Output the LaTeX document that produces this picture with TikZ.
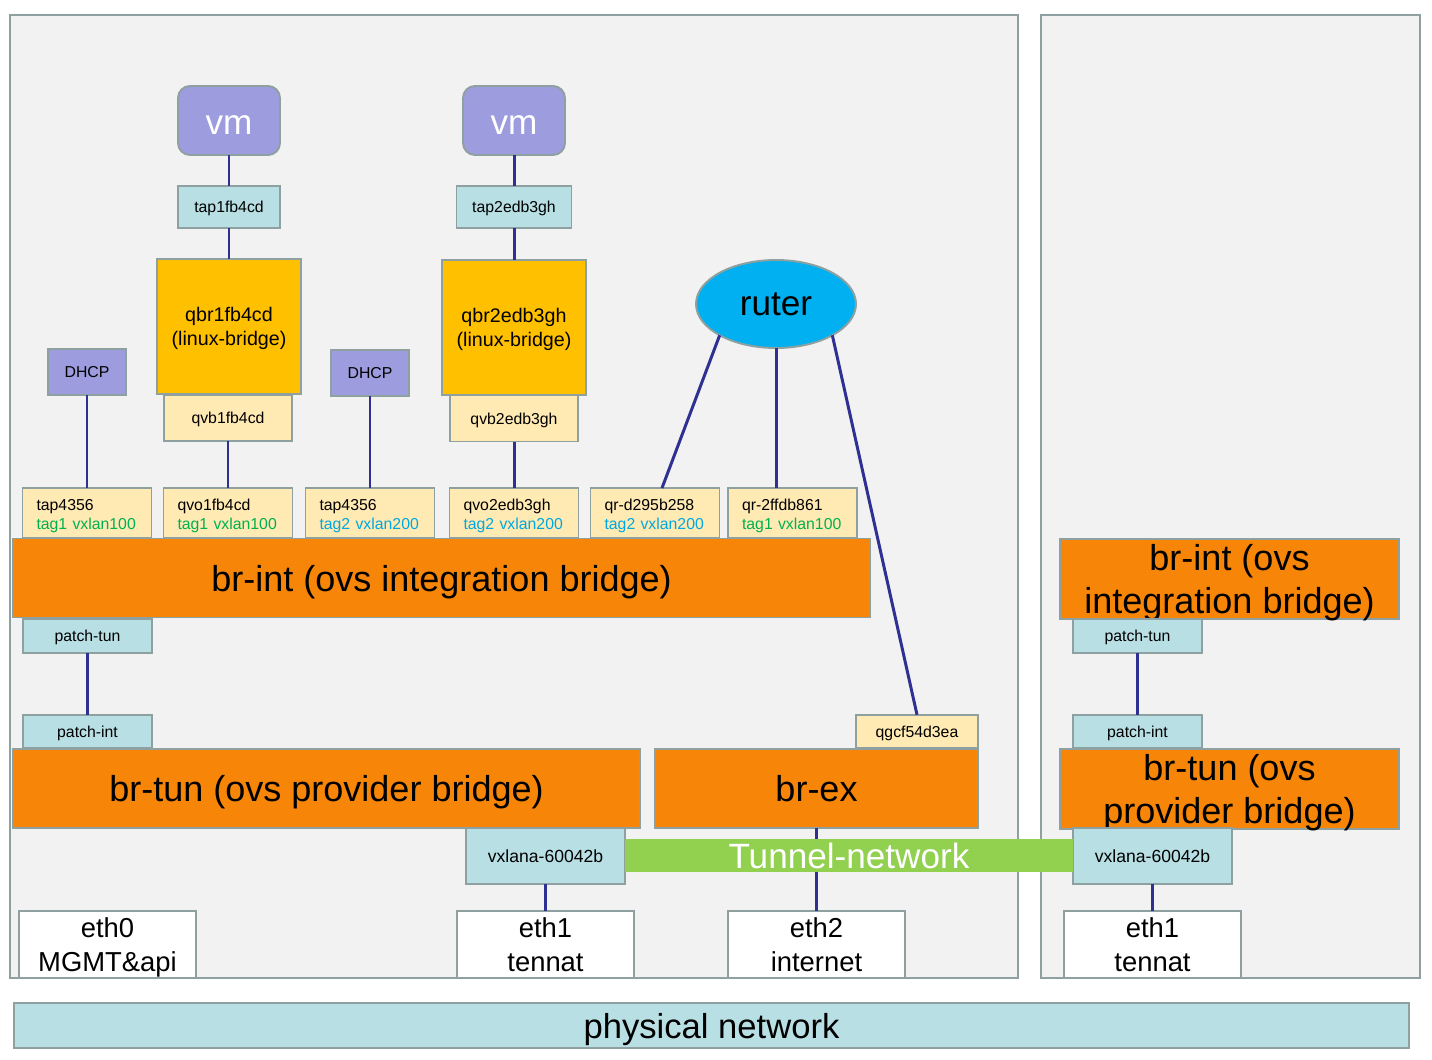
\documentclass[tikz,border=0pt]{standalone}
\usepackage{fontspec}
\setmainfont{Liberation Sans}
\usetikzlibrary{shapes.geometric}
\definecolor{panelgray}{HTML}{F2F2F2}
\definecolor{edgegray}{HTML}{8FA0A0}
\definecolor{vmblue}{HTML}{9C9CDE}
\definecolor{portblue}{HTML}{B8DFE4}
\definecolor{qbryellow}{HTML}{FFC000}
\definecolor{taglight}{HTML}{FFEAB4}
\definecolor{brorange}{HTML}{F68508}
\definecolor{ruterblue}{HTML}{00B0F0}
\definecolor{tunnelgreen}{HTML}{92D050}
\definecolor{linkblue}{HTML}{2E3192}
\definecolor{taggreen}{HTML}{00B050}
\definecolor{tagcyan}{HTML}{00A8E0}

\begin{document}
\begin{tikzpicture}[x=0.02cm,y=-0.02cm,
  box/.style={draw=edgegray,line width=1.1pt,inner sep=0pt,outer sep=0pt,align=center,text depth=0pt},
  panel/.style={draw=edgegray,line width=1.1pt,fill=panelgray},
  vmbox/.style={box,fill=vmblue,rounded corners=0.24cm,text=white,minimum width=2.04cm,minimum height=1.38cm,text height=15.4pt,font=\fontsize{20}{24}\selectfont},
  portbox/.style={box,fill=portblue,minimum height=0.84cm,font=\fontsize{9}{11}\selectfont},
  patchbox/.style={box,fill=portblue,minimum width=2.58cm,minimum height=0.67cm,font=\fontsize{9}{11}\selectfont},
  qbrbox/.style={box,fill=qbryellow,minimum width=2.88cm,minimum height=2.7cm,font=\fontsize{11.2}{13.6}\selectfont},
  qvbbox/.style={box,fill=taglight,minimum width=2.55cm,minimum height=0.92cm,font=\fontsize{9}{11}\selectfont},
  dhcpbox/.style={box,fill=vmblue,minimum width=1.56cm,minimum height=0.92cm,font=\fontsize{9}{11}\selectfont},
  rowbox/.style={box,fill=taglight,minimum width=2.58cm,minimum height=1.0cm,text width=2.02cm,text depth=9.3pt,align=left,font=\fontsize{9}{10.8}\selectfont},
  bridge/.style={box,fill=brorange,minimum height=1.58cm,font=\fontsize{20.5}{24}\selectfont},
  vxbox/.style={box,fill=portblue,minimum width=3.18cm,minimum height=1.12cm,font=\fontsize{10}{12}\selectfont},
  ethbox/.style={box,fill=white,minimum width=3.54cm,minimum height=1.34cm,font=\fontsize{15.6}{19}\selectfont},
  link/.style={draw=linkblue,line width=1.7pt}]

\useasboundingbox[fill=white] (0,0) rectangle (1432,1059);
\draw[panel] (10,15) rectangle (1018,978);
\draw[panel] (1041,15) rectangle (1420,978);

\node[vmbox] (vm1) at (229,120.5) {vm};
\node[vmbox] (vm2) at (514,120.5) {vm};
\node[portbox,minimum width=2.04cm] (tapA) at (229,207) {tap1fb4cd};
\node[portbox,minimum width=2.3cm] (tapB) at (514,207) {tap2edb3gh};
\node[qbrbox] (qbrA) at (229,326.5) {qbr1fb4cd\\(linux-bridge)};
\node[qbrbox] (qbrB) at (514,327.5) {qbr2edb3gh\\(linux-bridge)};
\node[qvbbox] (qvbA) at (228,418) {qvb1fb4cd};
\node[qvbbox] (qvbB) at (514,418.5) {qvb2edb3gh};
\node[dhcpbox] (dhcpA) at (87,372) {DHCP};
\node[dhcpbox] (dhcpB) at (370,373) {DHCP};
\node[ellipse,draw=edgegray,line width=1.1pt,fill=ruterblue,minimum width=3.2cm,minimum height=1.76cm,inner sep=0pt,outer sep=0pt,text depth=0pt,font=\fontsize{20}{24}\selectfont] (ruter) at (776,304) {ruter};

\node[rowbox] (rowA) at (87,513) {tap4356\\\textcolor{taggreen}{tag1 vxlan100}};
\node[rowbox] (rowB) at (228,513) {qvo1fb4cd\\\textcolor{taggreen}{tag1 vxlan100}};
\node[rowbox] (rowC) at (370,513) {tap4356\\\textcolor{tagcyan}{tag2 vxlan200}};
\node[rowbox] (rowD) at (514,513) {qvo2edb3gh\\\textcolor{tagcyan}{tag2 vxlan200}};
\node[rowbox] (rowE) at (655,513) {qr-d295b258\\\textcolor{tagcyan}{tag2 vxlan200}};
\node[rowbox] (rowF) at (792.5,513) {qr-2ffdb861\\\textcolor{taggreen}{tag1 vxlan100}};

\node[bridge,minimum width=17.14cm] (brint) at (441.5,578) {br-int (ovs integration bridge)};
\node[patchbox] (patchtunA) at (87.5,636) {patch-tun};
\node[patchbox] (patchintA) at (87.5,731.5) {patch-int};
\node[bridge,minimum width=12.54cm] (brtun) at (326.5,788.5) {br-tun (ovs provider bridge)};
\node[patchbox,fill=taglight,minimum width=2.44cm] (qgcf) at (917,731.5) {qgcf54d3ea};
\node[bridge,minimum width=6.46cm] (brex) at (816.5,788.5) {br-ex};
\node[vxbox] (vxA) at (545.5,856) {vxlana-60042b};

\node[bridge,minimum width=6.78cm,minimum height=1.6cm] (brintR) at (1229.5,579) {br-int (ovs\\integration bridge)};
\node[patchbox] (patchtunB) at (1137.5,636) {patch-tun};
\node[patchbox] (patchintB) at (1137.5,731.5) {patch-int};
\node[bridge,minimum width=6.78cm,minimum height=1.6cm] (brtunR) at (1229.5,789) {br-tun (ovs\\provider bridge)};
\node[vxbox] (vxB) at (1152.5,856) {vxlana-60042b};

\node[ethbox] (eth0) at (107.5,944.5) {eth0\\MGMT\&api};
\node[ethbox] (ethA) at (545.5,944.5) {eth1\\tennat};
\node[ethbox] (eth2) at (816.5,944.5) {eth2\\internet};
\node[ethbox] (ethB) at (1152.5,944.5) {eth1\\tennat};

\node[box,fill=portblue,minimum width=27.9cm,minimum height=0.9cm,font=\fontsize{19.7}{24}\selectfont] (phys) at (711.5,1025.5) {physical network};

\draw[link] (vm1) -- (tapA) (tapA) -- (qbrA) (qvbA) -- (rowB);
\draw[link] (vm2) -- (tapB) (tapB) -- (qbrB) (qvbB) -- (rowD);
\draw[link] (dhcpA) -- (rowA);
\draw[link] (dhcpB) -- (rowC);
\draw[link] (ruter.209) -- ([xshift=0.14cm]rowE.north);
\draw[link] (ruter.south) -- (ruter.south |- rowF.north);
\draw[link] (ruter.331) -- (qgcf.north);
\draw[link] (patchtunA) -- (patchintA);
\draw[link] (patchtunB) -- (patchintB);
\draw[link] (vxA) -- (ethA);
\draw[link] (vxB) -- (ethB);
\draw[link] (brex) -- (eth2);

\node[fill=tunnelgreen,inner sep=0pt,minimum width=8.96cm,minimum height=0.66cm,text=white,text depth=0pt,font=\fontsize{20}{24}\selectfont] (tunnel) at (849,855.5) {Tunnel-network};
\end{tikzpicture}
\end{document}
